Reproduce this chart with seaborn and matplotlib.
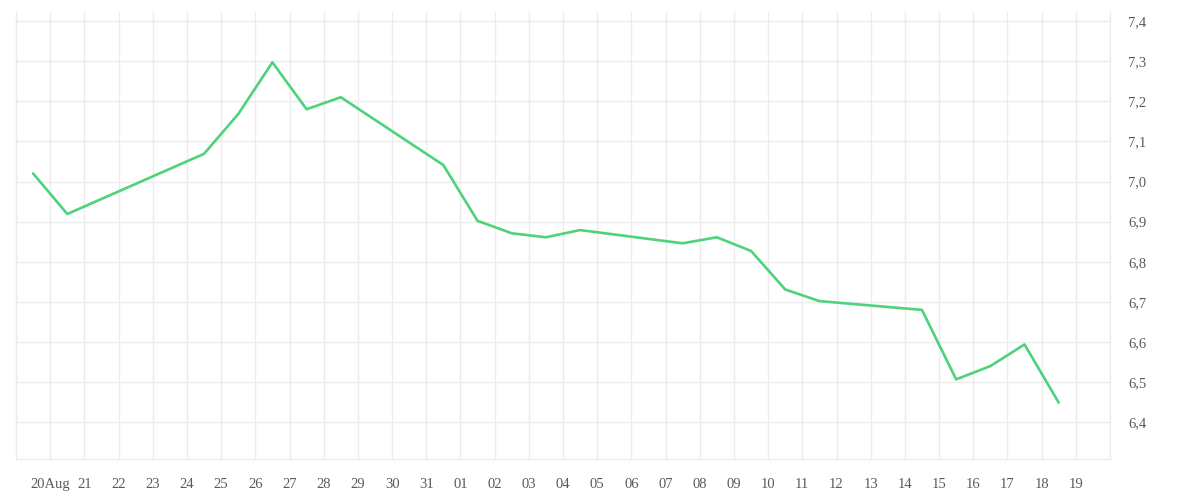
import matplotlib
matplotlib.use("Agg")
import matplotlib.pyplot as plt
import matplotlib.dates as mdates
import matplotlib.ticker as mticker
import seaborn as sns
import pandas as pd
import numpy as np

# ---- data ----
dates = ["2019-08-19 12:00", "2019-08-20 12:00", "2019-08-24 12:00", "2019-08-25 12:00",
         "2019-08-26 12:00", "2019-08-27 12:00", "2019-08-28 12:00", "2019-08-31 12:00",
         "2019-09-01 12:00", "2019-09-02 12:00", "2019-09-03 12:00", "2019-09-04 12:00",
         "2019-09-07 12:00", "2019-09-08 12:00", "2019-09-09 12:00", "2019-09-10 12:00",
         "2019-09-11 12:00", "2019-09-14 12:00", "2019-09-15 12:00", "2019-09-16 12:00",
         "2019-09-17 12:00", "2019-09-18 12:00"]
values = [7.020, 6.919, 7.069, 7.168, 7.297, 7.180, 7.210, 7.041,
          6.902, 6.871, 6.861, 6.879, 6.846, 6.861, 6.827, 6.731,
          6.702, 6.680, 6.507, 6.540, 6.594, 6.449]
y_ticks = [6.4, 6.5, 6.6, 6.7, 6.8, 6.9, 7.0, 7.1, 7.2, 7.3, 7.4]
x_start = "2019-08-19"
x_end = "2019-09-20"

df = pd.DataFrame({"date": pd.to_datetime(dates), "value": values})

sns.set_style("white")
plt.rcParams["font.family"] = ["Liberation Serif", "DejaVu Serif"]

GRID = "#ececec"
TEXT = "#5a5a5a"
LINE = "#4ed27a"

fig = plt.figure(figsize=(12, 5), dpi=100)
ax = fig.add_axes([16/1200, 1 - 459/500, (1110 - 16)/1200, (459 - 12)/500])

sns.lineplot(data=df, x="date", y="value", ax=ax, color=LINE, linewidth=1.9)

ax.set_xlim(pd.Timestamp(x_start), pd.Timestamp(x_end))
ax.set_ylim(6.3085, 7.4224)

# x ticks: every day
ax.xaxis.set_major_locator(mdates.DayLocator())
first_label_day = pd.Timestamp("2019-08-20")

def fmt_x(x, pos):
    d = mdates.num2date(x).replace(tzinfo=None)
    d = pd.Timestamp(d).normalize()
    if d < first_label_day or d >= pd.Timestamp(x_end):
        return ""
    if d == first_label_day:
        return d.strftime("%d%b")
    return d.strftime("%d")

ax.xaxis.set_major_formatter(mticker.FuncFormatter(fmt_x))

ax.set_yticks(y_ticks)
ax.yaxis.set_major_formatter(mticker.FuncFormatter(lambda v, p: f"{v:.1f}".replace(".", ",")))
ax.yaxis.tick_right()

ax.tick_params(axis="x", length=9, width=1, color=GRID, labelsize=10.5, labelcolor=TEXT, pad=5)
ax.tick_params(axis="y", length=0, labelsize=10.5, labelcolor=TEXT, pad=13)

ax.grid(True, color=GRID, linewidth=1)
ax.set_axisbelow(True)
ax.spines["top"].set_visible(False)
for s in ["left", "right", "bottom"]:
    ax.spines[s].set_color(GRID)
    ax.spines[s].set_linewidth(1)

ax.set_xlabel("")
ax.set_ylabel("")

fig.savefig("out.png", dpi=100, facecolor="white")
